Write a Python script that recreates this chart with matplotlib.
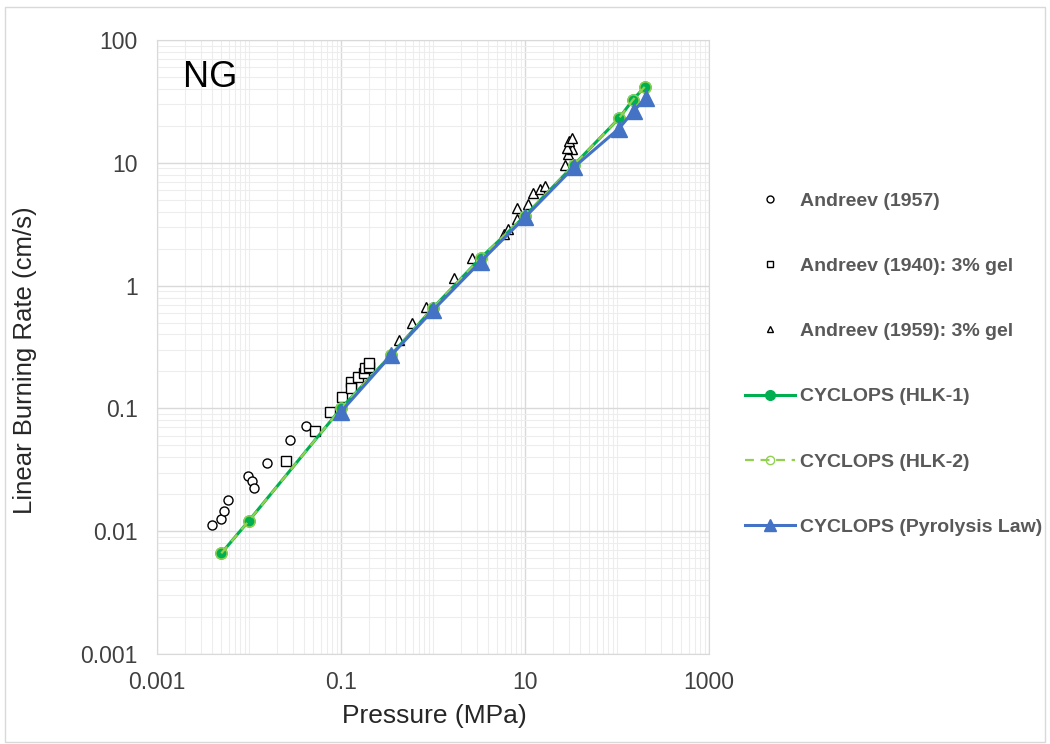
import matplotlib
matplotlib.use("Agg")
import matplotlib.pyplot as plt
from matplotlib.patches import Rectangle
from matplotlib.ticker import LogLocator, FixedLocator, FixedFormatter, NullFormatter

plt.rcParams['font.family'] = ['Liberation Sans', 'DejaVu Sans']

# --- data ---
andreev1957_p = [0.00393, 0.00496, 0.0054, 0.00596, 0.00968, 0.01087, 0.01125, 0.0158, 0.0281, 0.0413]
andreev1957_r = [0.0112, 0.0125, 0.0146, 0.0179, 0.0282, 0.0256, 0.0223, 0.0357, 0.0549, 0.0714]

andreev1940_p = [0.0252, 0.0521, 0.0759, 0.102, 0.129, 0.129, 0.153, 0.178, 0.182, 0.203, 0.203]
andreev1940_r = [0.0373, 0.0655, 0.0935, 0.124, 0.164, 0.147, 0.180, 0.195, 0.212, 0.219, 0.236]

andreev1959_p = [0.427, 0.596, 0.834, 1.69, 2.67, 5.96, 6.58, 8.13, 8.13, 10.7, 12.3, 14.6, 16.6,
                 27.2, 29.1, 32.2, 28.4, 30.1, 32.2]
andreev1959_r = [0.361, 0.493, 0.673, 1.16, 1.69, 2.63, 2.87, 3.46, 4.31, 4.59, 5.65, 6.12, 6.51,
                 9.6, 11.7, 12.9, 13.3, 15.0, 16.0]

hlk1_p = [0.005, 0.01, 0.1, 0.35, 1.0, 3.3, 10.0, 34.0, 105.0, 148.0, 200.0]
hlk1_r = [0.0066, 0.0122, 0.100, 0.272, 0.658, 1.68, 3.69, 9.6, 23.0, 32.4, 41.5]

hlk2_p = [0.005, 0.01, 0.1, 0.35, 1.0, 3.3, 10.0, 34.0, 105.0, 148.0, 200.0]
hlk2_r = [0.0066, 0.0122, 0.100, 0.272, 0.658, 1.68, 3.69, 9.6, 23.0, 32.4, 41.5]

pyro_p = [0.1, 0.35, 1.0, 3.3, 10.0, 34.0, 105.0, 152.0, 205.0]
pyro_r = [0.094, 0.27, 0.63, 1.57, 3.6, 9.2, 19.0, 26.5, 33.5]

xticks = [0.001, 0.1, 10, 1000]
xtick_labels = ['0.001', '0.1', '10', '1000']
yticks = [0.001, 0.01, 0.1, 1, 10, 100]
ytick_labels = ['0.001', '0.01', '0.1', '1', '10', '100']

# --- figure ---
fig = plt.figure(figsize=(10.5, 7.44), dpi=100)
fig.patches.append(Rectangle((5/1050, 2/744), 1040/1050, 735/744, transform=fig.transFigure,
                             fill=False, edgecolor='#D9D9D9', linewidth=1.0))
ax = fig.add_axes([157/1050, 1 - 654/744, (709-157)/1050, (654-40)/744])

ax.set_xscale('log')
ax.set_yscale('log')
ax.set_xlim(0.001, 1000)
ax.set_ylim(0.001, 100)

ax.xaxis.set_major_locator(FixedLocator(xticks))
ax.xaxis.set_major_formatter(FixedFormatter(xtick_labels))
ax.yaxis.set_major_locator(FixedLocator(yticks))
ax.yaxis.set_major_formatter(FixedFormatter(ytick_labels))
ax.xaxis.set_minor_locator(LogLocator(base=10, subs=range(1, 10), numticks=100))
ax.yaxis.set_minor_locator(LogLocator(base=10, subs=range(2, 10), numticks=100))
ax.xaxis.set_minor_formatter(NullFormatter())
ax.yaxis.set_minor_formatter(NullFormatter())

ax.grid(True, which='minor', color='#EDEDED', linewidth=0.8)
ax.grid(True, which='major', color='#D9D9D9', linewidth=1.0)
ax.set_axisbelow(True)
for s in ax.spines.values():
    s.set_color('#D9D9D9')
ax.tick_params(which='both', length=0, labelsize=16.5, colors='#404040')
ax.tick_params(axis='y', pad=14)
ax.tick_params(axis='x', pad=12)

ax.plot(andreev1957_p, andreev1957_r, linestyle='none', marker='o', markersize=6.5,
        markerfacecolor='white', markeredgecolor='black', markeredgewidth=1.0, label='Andreev (1957)', zorder=3)
ax.plot(andreev1940_p, andreev1940_r, linestyle='none', marker='s', markersize=6.5,
        markerfacecolor='white', markeredgecolor='black', markeredgewidth=1.0, label='Andreev (1940): 3% gel', zorder=3)
ax.plot(andreev1959_p, andreev1959_r, linestyle='none', marker='^', markersize=7.5,
        markerfacecolor='white', markeredgecolor='black', markeredgewidth=1.0, label='Andreev (1959): 3% gel', zorder=3)

ax.plot(hlk1_p, hlk1_r, color='#00B050', linewidth=2.2, marker='o', markersize=8,
        markerfacecolor='#00B050', markeredgecolor='#00B050', label='CYCLOPS (HLK-1)', zorder=4)
ax.plot(hlk2_p, hlk2_r, color='#92D050', linewidth=1.6, linestyle=(0, (4, 3)), marker='o', markersize=8,
        fillstyle='none', markeredgecolor='#92D050', markeredgewidth=1.0, label='CYCLOPS (HLK-2)', zorder=5)
ax.plot(pyro_p, pyro_r, color='#4472C4', linewidth=2.2, marker='^', markersize=11,
        markerfacecolor='#4472C4', markeredgecolor='#4472C4', label='CYCLOPS (Pyrolysis Law)', zorder=6)

fig.text(183/1050, 1 - 60/744, 'NG', fontsize=26, color='black', va='top', ha='left')

fig.text(25/1050, 1 - 360/744, 'Linear Burning Rate (cm/s)', rotation=90, fontsize=18.5,
         color='#262626', ha='center', va='center')
fig.text(434/1050, 1 - 716/744, 'Pressure (MPa)', fontsize=19, color='#262626', ha='center', va='center')

handles, labels = ax.get_legend_handles_labels()
leg = fig.legend(handles, labels, loc='upper left', bbox_to_anchor=(745/1050, 1 - 192/744),
                 frameon=False, fontsize=14, labelspacing=2.45, handlelength=2.55, handletextpad=0.3,
                 borderpad=0, borderaxespad=0, markerscale=1.0)
for t in leg.get_texts():
    t.set_color('#595959')
    t.set_fontweight('bold')
lh = leg.legend_handles
for h in lh[:3]:
    h.set_markersize(5)
lh[3].set_markersize(7)
lh[4].set_markersize(6)
lh[5].set_markersize(9)

fig.savefig('out.png', dpi=100)
